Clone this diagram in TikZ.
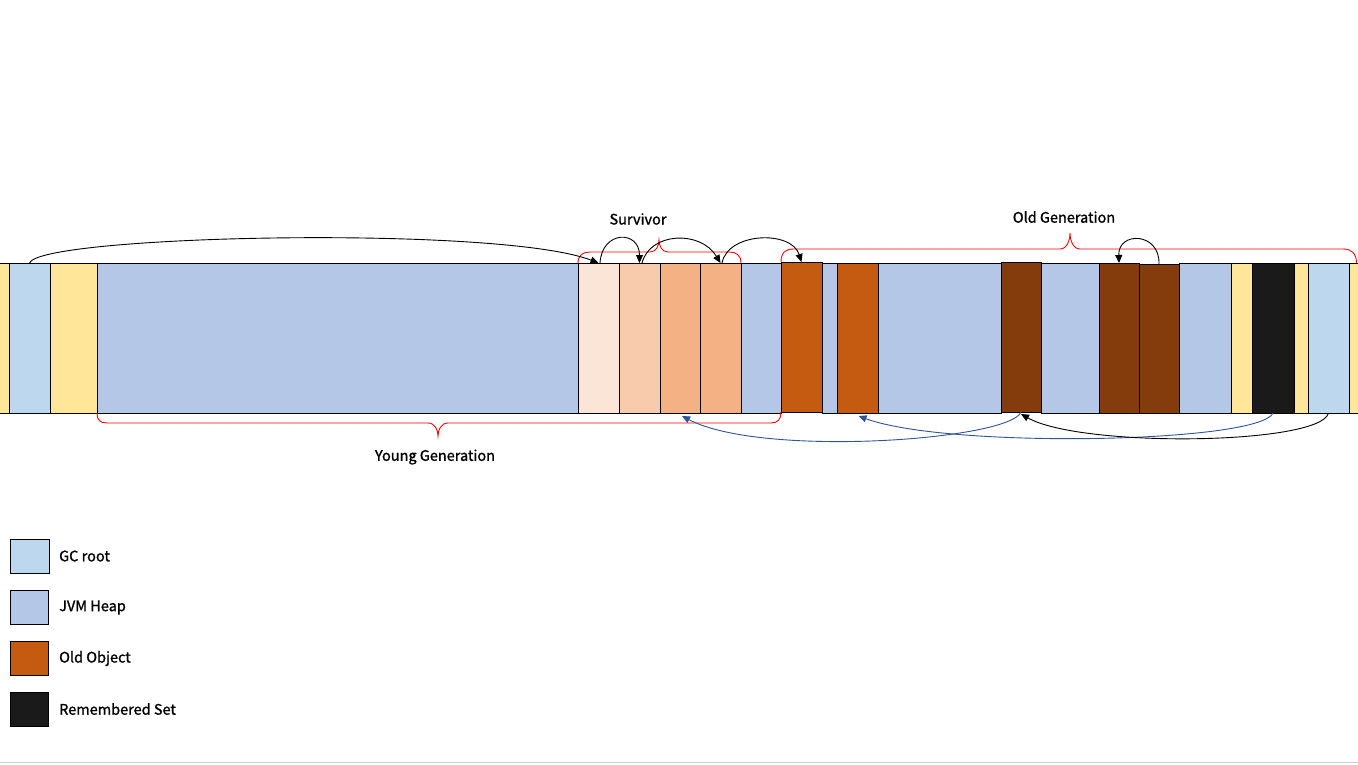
\documentclass[tikz,border=0pt]{standalone}
\usepackage{fontspec}
\setmainfont{Noto Sans CJK KR}[FakeBold=1.2]
\usetikzlibrary{arrows.meta}
\definecolor{gcroot}{HTML}{BDD7EE}
\definecolor{heap}{HTML}{B4C7E7}
\definecolor{pad}{HTML}{FFE699}
\definecolor{sva}{HTML}{FBE5D6}
\definecolor{svb}{HTML}{F8CBAD}
\definecolor{svc}{HTML}{F4B183}
\definecolor{oldobj}{HTML}{C55A11}
\definecolor{oldbrown}{HTML}{843C0C}
\definecolor{remset}{HTML}{1A1A1A}
\definecolor{refblue}{HTML}{2F5597}
\definecolor{bracered}{HTML}{FF0000}
\newcommand\mkcell[6]{\node[cellbox,fill=#2,minimum width={(#4-#3)*1pt},minimum height={(#6-#5)*1pt}] (#1) at (#3,#5) {};}
\begin{document}
\begin{tikzpicture}[x=1pt,y=-1pt,
  cellbox/.style={draw=black,line width=1pt,inner sep=0pt,outer sep=0pt,anchor=north west},
  ref/.style={line width=0.9pt,-{Triangle[length=8pt,width=7pt]}},
  bref/.style={ref,refblue},
  brace/.style={draw=bracered,line width=0.9pt},
  lbl/.style={font=\fontsize{14.5}{16}\selectfont,inner sep=0pt}]
\useasboundingbox[fill=white] (0,0) rectangle (1358,764);
% heap strip
\mkcell{padL}{pad}{-5}{9}{263}{413}
\mkcell{rootL}{gcroot}{9}{50}{263}{413}
\mkcell{padA}{pad}{50}{97}{263}{413}
\mkcell{heapA}{heap}{97}{578}{263}{413}
\mkcell{svA}{sva}{578}{619}{263}{413}
\mkcell{svB}{svb}{619}{660}{263}{413}
\mkcell{svC}{svc}{660}{700}{263}{413}
\mkcell{svD}{svc}{700}{741}{263}{413}
\mkcell{heapB}{heap}{741}{781}{263}{413}
\mkcell{heapC}{heap}{822}{837}{263}{413}
\mkcell{oldA}{oldobj}{781}{822}{262}{412}
\mkcell{oldB}{oldobj}{837}{878}{263}{413}
\mkcell{heapD}{heap}{878}{1001}{263}{413}
\mkcell{heapE}{heap}{1041}{1099}{263}{413}
\mkcell{oldC}{oldbrown}{1001}{1041}{262}{412}
\mkcell{oldD}{oldbrown}{1099}{1139}{263}{413}
\mkcell{heapF}{heap}{1179}{1231}{263}{413}
\mkcell{oldE}{oldbrown}{1139}{1179}{264}{413}
\mkcell{padB}{pad}{1231}{1252}{263}{413}
\mkcell{rset}{remset}{1252}{1294}{263}{413}
\mkcell{padC}{pad}{1294}{1308}{263}{413}
\mkcell{rootR}{gcroot}{1308}{1349}{263}{413}
\mkcell{padR}{pad}{1349}{1365}{263}{413}
% braces
\draw[brace] (svA.north west) .. controls +(0,-8) and +(-7,0) .. (590,252) -- (650,252)
  .. controls +(6,0) and +(0,6) .. (659,240) .. controls +(0,6) and +(-6,0) .. (668,252)
  -- (729,252) .. controls +(7,0) and +(0,-8) .. (svD.north east);
\draw[brace] (oldA.north west) .. controls +(0,-10) and +(-8,0) .. (794,249) -- (1060,249)
  .. controls +(7,0) and +(0,7) .. (1070,233) .. controls +(0,7) and +(-7,0) .. (1080,249)
  -- (1343,249) .. controls +(8,0) and +(0,-10) .. (1356.5,263);
\draw[brace] (heapA.south west) .. controls +(0,7) and +(-7,0) .. (107,423) -- (428,423)
  .. controls +(7,0) and +(0,-6) .. (438,436) .. controls +(0,-6) and +(-7,0) .. (448,423)
  -- (771,423) .. controls +(7,0) and +(0,7) .. (oldA.south west);
% labels
\node[lbl] (survivorT) at (638,219) {Survivor};
\node[lbl] (oldgenT) at (1064,217) {Old Generation};
\node[lbl] (younggenT) at (435,457) {Young Generation};
% references above
\draw[ref] (rootL.north) .. controls +(10.5,-28) and +(-98.5,-38) .. (svA.north);
\draw[ref] ([xshift=1.5pt]svA.north) .. controls +(2,-33) and +(0,-33) .. (svB.north);
\draw[ref] ([xshift=2.5pt]svB.north) .. controls +(8,-31) and +(-20,-33) .. (svD.north);
\draw[ref] ([xshift=1.5pt]svD.north) .. controls +(6,-31) and +(-10,-32) .. (oldA.north);
\draw[ref] (oldE.north) .. controls +(1,-32) and +(-1,-32) .. (oldD.north);
% references below
\draw[bref] (oldC.south) .. controls +(-11,28) and +(80,42) .. ([xshift=2pt,yshift=-3pt]svC.south);
\draw[bref] (rset.south) .. controls +(-13,30) and +(90,33) .. ([xshift=1pt,yshift=-3pt]oldB.south);
\draw[ref] (rootR.south) .. controls +(-8,32) and +(60,34) .. ([yshift=-2pt]oldC.south);
% legend
\mkcell{lgRoot}{gcroot}{10}{49}{539}{573}
\mkcell{lgHeap}{heap}{10}{48}{590}{624}
\mkcell{lgOld}{oldobj}{10}{48}{641}{675}
\mkcell{lgRset}{remset}{10}{48}{692}{726}
\node[lbl,anchor=west] (lgRootT) at (59,556) {GC root};
\node[lbl,anchor=west] (lgHeapT) at (59,607.5) {JVM Heap};
\node[lbl,anchor=west] (lgOldT) at (59,658.5) {Old Object};
\node[lbl,anchor=west] (lgRsetT) at (59,709) {Remembered Set};
% bottom rule
\draw[black!20,line width=1pt] (0,762.5) -- (1358,762.5);
\end{tikzpicture}
\end{document}
